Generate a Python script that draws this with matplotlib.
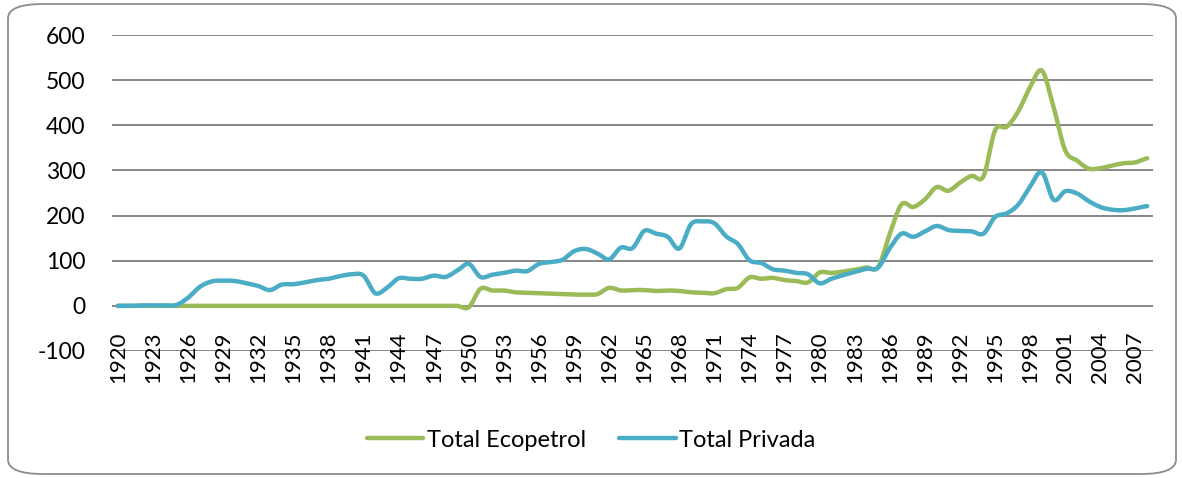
import numpy as np
import matplotlib
matplotlib.use("Agg")
import matplotlib.pyplot as plt
from matplotlib.patches import FancyBboxPatch

plt.rcParams['font.family'] = ['Lato', 'DejaVu Sans']
plt.rcParams['axes.unicode_minus'] = False

# Data
years = list(range(1920, 2009))

ecopetrol = [0] * 30 + [
    -3, 38, 34, 34, 30, 29, 28, 27, 26, 25,      # 1950-1959
    25, 26, 40, 34, 35, 35, 33, 34, 33, 30,      # 1960-1969
    29, 28, 37, 40, 63, 60, 62, 57, 55, 52,      # 1970-1979
    74, 73, 76, 80, 85, 86, 160, 225, 219, 236,  # 1980-1989
    263, 255, 273, 288, 287, 389, 397, 432, 485, 521,  # 1990-1999
    440, 344, 322, 304, 305, 311, 316, 318, 327,  # 2000-2008
]

privada = [
    0, 0, 1, 1, 1, 2, 18, 42, 54, 56,            # 1920-1929
    55, 50, 44, 35, 47, 48, 52, 57, 60, 66,      # 1930-1939
    70, 67, 28, 40, 61, 60, 60, 67, 64, 78,      # 1940-1949
    93, 64, 69, 73, 78, 77, 93, 97, 102, 121,    # 1950-1959
    126, 116, 103, 129, 128, 166, 160, 153, 127, 181,  # 1960-1969
    187, 183, 154, 137, 101, 95, 81, 78, 73, 70,  # 1970-1979
    50, 60, 68, 75, 82, 85, 128, 160, 153, 165,  # 1980-1989
    177, 168, 166, 165, 160, 197, 205, 225, 265, 296,  # 1990-1999
    235, 254, 249, 232, 219, 213, 212, 216, 221,  # 2000-2008
]

series = [("Total Ecopetrol", ecopetrol, "#9BBB59"),
          ("Total Privada", privada, "#4BACC6")]


# Catmull-Rom smoothing, like Excel's "smoothed line"
def smooth(x, y, n=12):
    x = np.asarray(x, float)
    y = np.asarray(y, float)
    px = np.concatenate([[2 * x[0] - x[1]], x, [2 * x[-1] - x[-2]]])
    py = np.concatenate([[y[0]], y, [y[-1]]])
    xs, ys = [], []
    t = np.linspace(0, 1, n, endpoint=False)
    for i in range(1, len(px) - 2):
        for p, out in ((px, xs), (py, ys)):
            p0, p1, p2, p3 = p[i - 1], p[i], p[i + 1], p[i + 2]
            out.extend(0.5 * (2 * p1 + (-p0 + p2) * t
                              + (2 * p0 - 5 * p1 + 4 * p2 - p3) * t ** 2
                              + (-p0 + 3 * p1 - 3 * p2 + p3) * t ** 3))
    xs.append(x[-1])
    ys.append(y[-1])
    return xs, ys


fig = plt.figure(figsize=(11.82, 4.78), dpi=100)
ax = fig.add_axes([0.0948, 0.2657, 0.8807, 0.661])

# rounded chart border
fig.patches.append(FancyBboxPatch((8 / 1182, 4 / 478), 1168 / 1182, 470 / 478,
                                  boxstyle="round,pad=0,rounding_size=0.03",
                                  transform=fig.transFigure, fill=False,
                                  edgecolor="#8c8c8c", linewidth=1.3))

for yv in range(-100, 700, 100):
    ax.axhline(yv, color="#868686", linewidth=1.4, zorder=1)

for name, vals, color in series:
    sx, sy = smooth(years, vals)
    ax.plot(sx, sy, color=color, linewidth=3.2, label=name,
            solid_capstyle="round", zorder=3)

ax.set_xlim(years[0] - 0.5, years[-1] + 0.5)
ax.set_ylim(-100, 600)
ax.set_yticks(range(-100, 700, 100))
ax.tick_params(axis="y", length=0, labelsize=16.5, pad=19)
ax.set_xticks([])
for yr in years[::3]:
    ax.text(yr, -113, str(yr), rotation=90, ha="center", va="center",
            fontsize=16, clip_on=False)

for s in ax.spines.values():
    s.set_visible(False)

leg = fig.legend(loc="center", bbox_to_anchor=(0.5, 0.079), ncol=2,
                 frameon=False, fontsize=17, handlelength=2.4,
                 columnspacing=1.4, handletextpad=0.15)

fig.savefig("out.png", dpi=100)
